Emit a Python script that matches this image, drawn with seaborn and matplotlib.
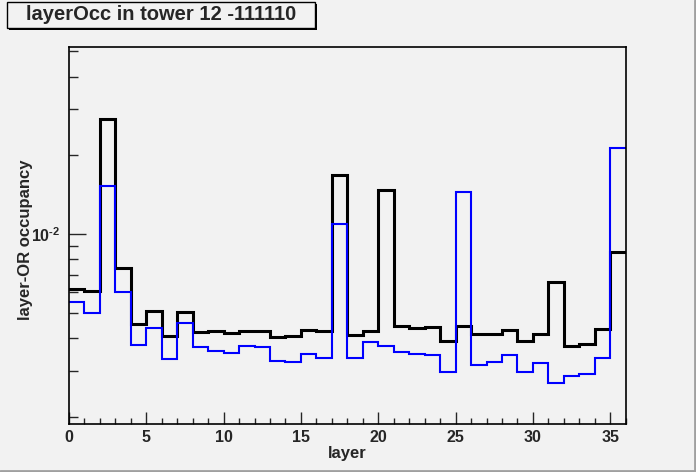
import numpy as np
import pandas as pd
import matplotlib
matplotlib.use("Agg")
import matplotlib.pyplot as plt
import seaborn as sns
from matplotlib.patches import Rectangle
from matplotlib.lines import Line2D
from matplotlib.ticker import FuncFormatter, NullFormatter, MultipleLocator

# layer-OR occupancy per layer
layers = np.arange(36)
occ_black = [6.16e-3, 6.07e-3, 2.76e-2, 7.41e-3, 4.53e-3, 5.09e-3, 4.07e-3, 5.05e-3,
             4.23e-3, 4.27e-3, 4.19e-3, 4.27e-3, 4.27e-3, 4.05e-3, 4.08e-3, 4.32e-3,
             4.28e-3, 1.68e-2, 4.11e-3, 4.27e-3, 1.47e-2, 4.45e-3, 4.38e-3, 4.42e-3,
             3.91e-3, 4.45e-3, 4.14e-3, 4.14e-3, 4.31e-3, 3.90e-3, 4.14e-3, 6.55e-3,
             3.73e-3, 3.82e-3, 4.33e-3, 8.53e-3]
occ_blue = [5.50e-3, 5.01e-3, 1.53e-2, 6.03e-3, 3.77e-3, 4.38e-3, 3.34e-3, 4.58e-3,
            3.71e-3, 3.59e-3, 3.52e-3, 3.75e-3, 3.70e-3, 3.28e-3, 3.24e-3, 3.49e-3,
            3.37e-3, 1.095e-2, 3.37e-3, 3.88e-3, 3.75e-3, 3.56e-3, 3.49e-3, 3.45e-3,
            2.98e-3, 1.45e-2, 3.15e-3, 3.25e-3, 3.45e-3, 2.98e-3, 3.22e-3, 2.71e-3,
            2.88e-3, 2.92e-3, 3.37e-3, 2.14e-2]

title = "layerOcc in tower 12 -111110"
bg = "#f2f2f2"

df = pd.DataFrame({"layer": layers + 0.5, "black": occ_black, "blue": occ_blue})

sns.set_theme(style="ticks", rc={"figure.facecolor": bg, "axes.facecolor": bg,
                                 "axes.edgecolor": "black", "axes.linewidth": 1.2})
plt.rcParams["font.family"] = ["Liberation Sans", "DejaVu Sans"]
plt.rcParams["font.weight"] = "bold"
plt.rcParams["mathtext.fontset"] = "custom"
plt.rcParams["mathtext.rm"] = "Liberation Sans:bold"
plt.rcParams["mathtext.bf"] = "Liberation Sans:bold"

fig = plt.figure(figsize=(6.96, 4.72), dpi=100)
ax = fig.add_axes([0.099, 0.101, 0.8, 0.8])

sns.histplot(data=df, x="layer", weights="black", bins=36, binrange=(0, 36),
             element="step", fill=False, color="black", linewidth=2.2,
             solid_joinstyle="miter", ax=ax)
sns.histplot(data=df, x="layer", weights="blue", bins=36, binrange=(0, 36),
             element="step", fill=False, color="#0000ff", linewidth=1.5,
             solid_joinstyle="miter", ax=ax)

ax.set_yscale("log")
ax.set_xlim(0, 36)
ax.set_ylim(1.876e-3, 5.2e-2)

ax.xaxis.set_major_locator(MultipleLocator(5))
ax.xaxis.set_minor_locator(MultipleLocator(1))
ax.yaxis.set_major_formatter(
    FuncFormatter(lambda v, p: r"10$^{\text{-}%d}$" % abs(round(np.log10(v)))))
ax.yaxis.set_minor_formatter(NullFormatter())
ax.tick_params(axis="x", which="major", direction="in", length=8.6, width=1.0,
               labelsize=11.5, pad=4)
ax.tick_params(axis="x", which="minor", direction="in", length=4.3, width=1.0)
ax.tick_params(axis="y", which="major", direction="in", length=12.2, width=1.0,
               labelsize=11.5, pad=6)
ax.tick_params(axis="y", which="minor", direction="in", length=6.5, width=1.0)
for lab in ax.get_xticklabels() + ax.get_yticklabels():
    lab.set_fontweight("bold")

ax.set_xlabel("layer", fontsize=12, fontweight="bold")
ax.set_ylabel("layer-OR occupancy", fontsize=12, fontweight="bold")
ax.xaxis.set_label_coords(0.5, -0.057)
ax.yaxis.set_label_coords(-0.064, 0.49)

# title box with shadow, ROOT style
W, H = 696.0, 472.0
fig.add_artist(Rectangle((9 / W, 1 - 30 / H), 308 / W, 26 / H, transform=fig.transFigure,
                         fc="black", ec="black", lw=0))
fig.add_artist(Rectangle((7 / W, 1 - 28 / H), 308 / W, 26 / H, transform=fig.transFigure,
                         fc=bg, ec="black", lw=1.0))
fig.text(161 / W, 1 - 15 / H, title, ha="center", va="center", fontsize=14.5,
         fontweight="bold")

# canvas border
fig.add_artist(Line2D([0, 1], [1 / H, 1 / H], transform=fig.transFigure, color="#a0a0a0", lw=2))
fig.add_artist(Line2D([1 - 1 / W, 1 - 1 / W], [0, 1], transform=fig.transFigure, color="#a0a0a0", lw=2))

fig.savefig("out.png", dpi=100)
